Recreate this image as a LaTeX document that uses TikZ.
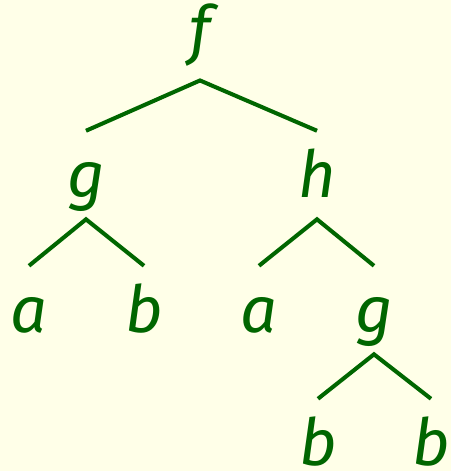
\documentclass[tikz,border=0pt]{standalone}
\usepackage{fontspec}
\setmainfont{Fira Sans}
\usepackage{xcolor}
\usetikzlibrary{arrows.meta}
\definecolor{treegreen}{RGB}{0,102,0}
\definecolor{paper}{RGB}{255,255,232}
\begin{document}
\begin{tikzpicture}[x=0.02cm,y=-0.02cm,
  lbl/.style={inner sep=0pt,anchor=base,text height=37.5pt,text depth=12.5pt,
    font=\fontsize{37}{40}\selectfont\itshape,text=treegreen},
  rootlbl/.style={lbl,text depth=16pt},
  leaflbl/.style={lbl,text depth=0pt},
  br/.style={draw=treegreen,line width=2.3pt}]
\fill[paper](0,0)rectangle(451,471);
\useasboundingbox(0,0)rectangle(451,471);
% root
\node[rootlbl](f)at(200,52){f};
% first level
\node[lbl](g1)at(86,197){g};
\node[lbl](h)at(317,197){h};
% second level
\node[leaflbl](a1)at(29,332){a};
\node[leaflbl](b1)at(144,332){b};
\node[leaflbl](a2)at(259,332){a};
\node[lbl](g2)at(374,332){g};
% third level
\node[leaflbl](b2)at(318,465){b};
\node[leaflbl](b3)at(431,465){b};
% branches
\draw[br](g1.north)--(f.south)--(h.north);
\draw[br](a1.north)--(g1.south)--(b1.north);
\draw[br](a2.north)--(h.south)--(g2.north);
\draw[br](b2.north)--(g2.south)--(b3.north);
\end{tikzpicture}
\end{document}
